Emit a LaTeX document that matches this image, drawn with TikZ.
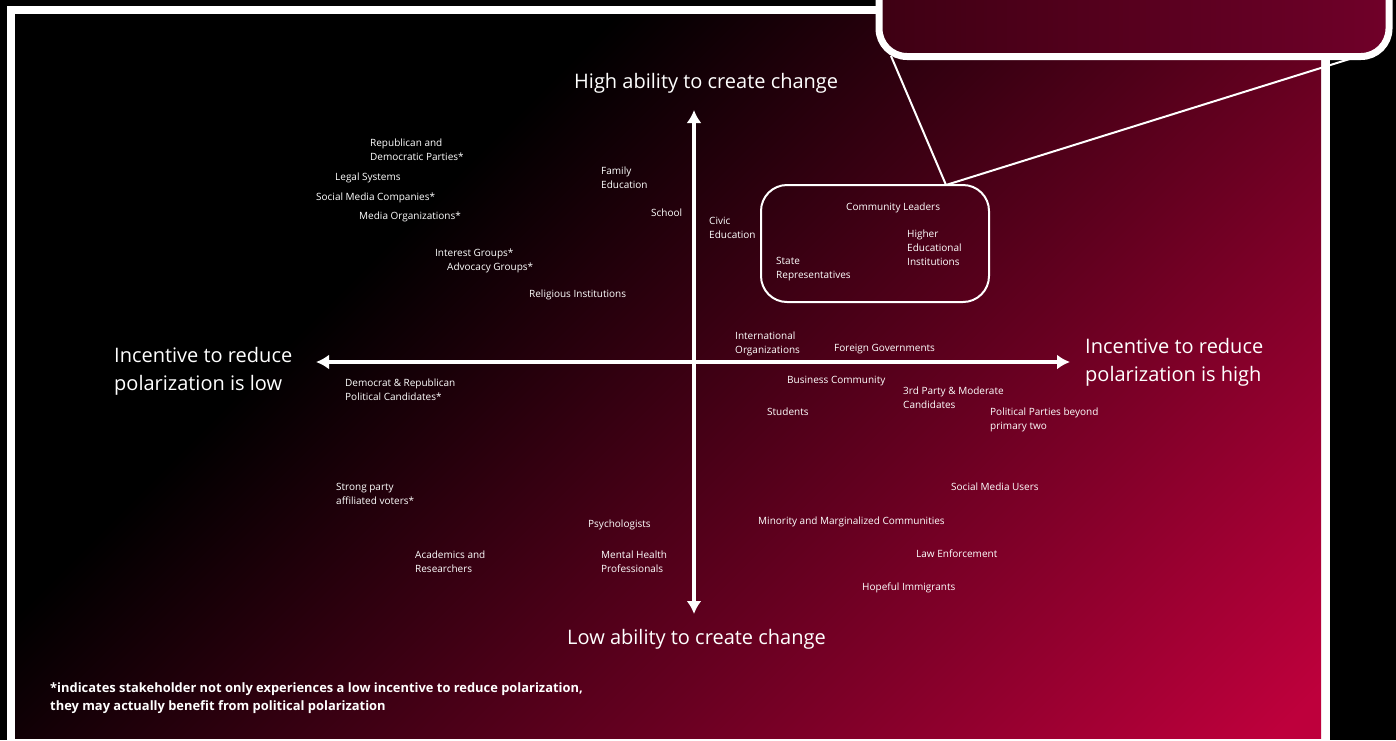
\documentclass[tikz,border=0pt]{standalone}
\usepackage{fontspec}
\setmainfont{Open Sans}
\usetikzlibrary{arrows.meta}
\definecolor{crim}{RGB}{190,0,60}
\definecolor{calloutL}{RGB}{62,0,19}
\definecolor{calloutR}{RGB}{112,0,41}
\pgfdeclarehorizontalshading{bgshade}{100bp}{color(0bp)=(black); color(39.5bp)=(black); color(74.6bp)=(crim); color(100bp)=(crim)}
\begin{document}
\begin{tikzpicture}[x=1pt,y=-1pt,
  lbl/.style={anchor=north west, inner sep=0pt, align=left, text=white, font=\fontsize{10}{14}\selectfont},
  biglbl/.style={anchor=north west, inner sep=0pt, align=left, text=white, font=\fontsize{20}{28.5}\selectfont},
  notelbl/.style={anchor=north west, inner sep=0pt, align=left, text=white, font=\bfseries\fontsize{12.9}{18}\selectfont},
  axisline/.style={draw=white, line width=3.5pt, {Latex[length=13pt,width=15pt]}-{Latex[length=13pt,width=15pt]}},
  grpbox/.style={draw=white, line width=2pt, rounded corners=26pt, minimum width=228pt, minimum height=117pt, inner sep=0pt},
  calloutbox/.style={draw=white, line width=7pt, rounded corners=28pt, minimum width=510pt, minimum height=97pt, left color=calloutL, right color=calloutR, inner sep=0pt},
  conn/.style={draw=white, line width=2pt}
]
\useasboundingbox (0,0) rectangle (1396,740);
\clip (0,0) rectangle (1396,740);
\fill[black] (0,0) rectangle (1396,740);
\fill[white] (7,6) rectangle (1330,750);
\begin{scope}
  \clip (15,14) rectangle (1321,738);
  \shade[shading=bgshade, shading angle=-45] (-32,-324) rectangle (1368,1076);
\end{scope}

% axes
\coordinate (ytop) at (694,110);
\coordinate (ybot) at (694,614);
\coordinate (xl) at (316,362);
\coordinate (xr) at (1070,362);
\draw[axisline] (ybot) -- (ytop);
\draw[axisline] (xl) -- (xr);

% axis labels
\node[biglbl] (hi) at (574,73) {High ability to create change};
\node[biglbl] (lo) at (567,629) {Low ability to create change};
\node[biglbl] (left) at (114,347) {Incentive to reduce\\polarization is low};
\node[biglbl] (right) at (1085,338) {Incentive to reduce\\polarization is high};

% stakeholders
\node[lbl] (rep) at (370,139) {Republican and\\Democratic Parties*};
\node[lbl] (legal) at (335,173) {Legal Systems};
\node[lbl] (smc) at (316,193) {Social Media Companies*};
\node[lbl] (media) at (359,212) {Media Organizations*};
\node[lbl] (interest) at (435,249) {Interest Groups*};
\node[lbl] (advocacy) at (447,263) {Advocacy Groups*};
\node[lbl] (religious) at (529,290) {Religious Institutions};
\node[lbl] (family) at (601,167) {Family\\Education};
\node[lbl] (school) at (651,209) {School};
\node[lbl] (civic) at (709,217) {Civic\\Education};
\node[lbl] (community) at (846,203) {Community Leaders};
\node[lbl] (higher) at (907,230) {Higher\\Educational\\Institutions};
\node[lbl] (state) at (776,257) {State\\Representatives};
\node[lbl] (intl) at (735,332) {International\\Organizations};
\node[lbl] (foreign) at (834,344) {Foreign Governments};
\node[lbl] (demrep) at (345,379) {Democrat \& Republican\\Political Candidates*};
\node[lbl] (business) at (787,376) {Business Community};
\node[lbl] (third) at (903,387) {3rd Party \& Moderate\\Candidates};
\node[lbl] (students) at (767,408) {Students};
\node[lbl] (polparties) at (990,408) {Political Parties beyond\\primary two};
\node[lbl] (smusers) at (951,483) {Social Media Users};
\node[lbl] (strong) at (336,483) {Strong party\\affiliated voters*};
\node[lbl] (minority) at (758,517) {Minority and Marginalized Communities};
\node[lbl] (psych) at (588,520) {Psychologists};
\node[lbl] (academics) at (415,551) {Academics and\\Researchers};
\node[lbl] (mental) at (601,551) {Mental Health\\Professionals};
\node[lbl] (law) at (916,550) {Law Enforcement};
\node[lbl] (hopeful) at (862,583) {Hopeful Immigrants};

% footnote
\node[notelbl] (note) at (50,682) {*indicates stakeholder not only experiences a low incentive to reduce polarization,\\they may actually benefit from political polarization};

% highlight group and callout
\node[grpbox] (grp) at (875,243.5) {};
\coordinate (apex) at (946,185);
\coordinate (cl) at (891,56);
\coordinate (cr) at (1356,57);
\draw[conn] (apex) -- (cl);
\draw[conn] (apex) -- (cr);
\node[calloutbox] (callout) at (1134,8) {};
\end{tikzpicture}
\end{document}
